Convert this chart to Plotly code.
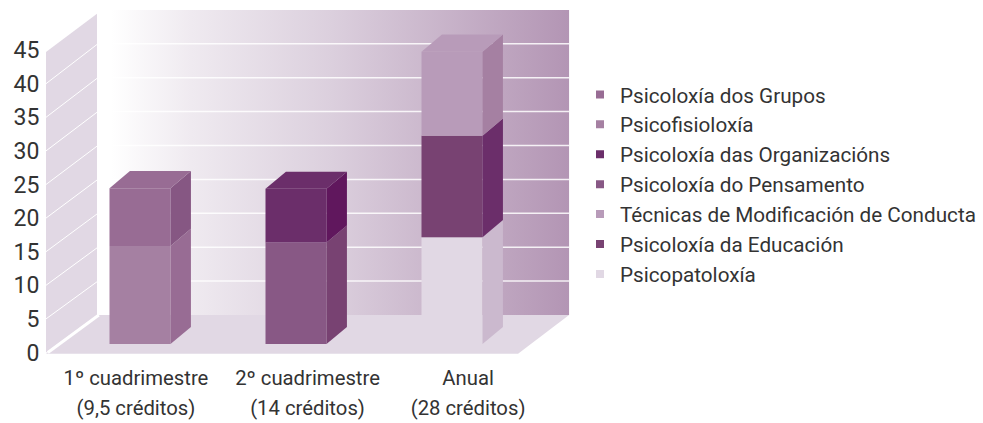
import plotly.graph_objects as go

# ---- data ----
categories = ["1º cuadrimestre", "2º cuadrimestre", "Anual"]
credits = ["(9,5 créditos)", "(14 créditos)", "(28 créditos)"]
category_pos = [0, 1, 2]
label_pos = [-0.026, 1.074, 2.103]
y_ticks = [0, 5, 10, 15, 20, 25, 30, 35, 40, 45]

series_names = ["Psicoloxía dos Grupos", "Psicofisioloxía", "Psicoloxía das Organizacións",
                "Psicoloxía do Pensamento", "Técnicas de Modificación de Conducta",
                "Psicoloxía da Educación", "Psicopatoloxía"]
grupos = [8.6, None, None]
psicofisio = [14.6, None, None]
organizacions = [None, 8.0, None]
pensamento = [None, 15.1, None]
tecnicas = [None, None, 12.5]
educacion = [None, None, 15.1]
psicopato = [None, None, 15.9]
series_values = [grupos, psicofisio, organizacions, pensamento, tecnicas, educacion, psicopato]
front_colors = ["#986C94", "#A580A2", "#6B2E6A", "#885885", "#B89BB9", "#784272", "#E1D8E4"]
side_colors = ["#865783", "#986C94", "#60175D", "#784272", "#A580A2", "#6B2E6A", "#CBB9CE"]

# ---- geometry of the pseudo-3D box, in axis units ----
W, H = 983, 423
PLOT_L, PLOT_R, PLOT_T, PLOT_B = 46, 570, 5, 355
PX_X, PX_Y = 156.0, 6.72          # pixels per axis unit
X0_PX, Y0_PX = 140.0, 352.5       # pixel position of x=0, y=0
x_range = [(PLOT_L - X0_PX) / PX_X, (PLOT_R - X0_PX) / PX_X]
y_range = [(Y0_PX - PLOT_B) / PX_Y, (Y0_PX - PLOT_T) / PX_Y]
BAR_W = 0.391
BAR_FLOOR = 1.26                  # front of bars sits on the floor
BAR_DX, BAR_DY = 0.131, 2.55      # bar depth
BOX_L = x_range[0]
BOX_DX, BOX_DY = 0.327, 5.58      # floor depth
BOX_W = 3.026                     # floor width
BACK_SCALE = 1.009
TEXT = "#333333"
FONT = "Roboto"


def back_y(v):
    return v * BACK_SCALE + BOX_DY


fig = go.Figure()

# ---- walls and floor on the base axes ----
back_l, back_r = BOX_L + BOX_DX, BOX_L + BOX_DX + BOX_W
fig.add_trace(go.Scatter(
    x=[back_l, back_r, back_r, back_l, back_l],
    y=[back_y(0), back_y(0), back_y(45), back_y(45), back_y(0)],
    mode="lines", line=dict(width=0), fill="toself", hoverinfo="skip", showlegend=False,
    fillgradient=dict(type="horizontal", colorscale=[[0, "#FFFFFF"], [0.03, "#FFFFFF"], [0.2, "#EFEAF0"],
                                                     [0.5, "#DBCFDD"], [1, "#B395B4"]])))
for v in y_ticks[1:9]:
    fig.add_trace(go.Scatter(x=[back_l + 0.065, back_r], y=[back_y(v), back_y(v)], mode="lines",
                             line=dict(color="rgba(255,255,255,0.85)", width=1.5),
                             hoverinfo="skip", showlegend=False))
fig.add_trace(go.Scatter(
    x=[BOX_L, back_l, back_l, BOX_L, BOX_L],
    y=[0, BOX_DY, 50.4, 44.7, 0],
    mode="lines", line=dict(width=0), fill="toself", fillcolor="#E1D8E4",
    hoverinfo="skip", showlegend=False))
for v in y_ticks[1:9]:
    fig.add_trace(go.Scatter(x=[BOX_L, back_l], y=[v, back_y(v) - 0.1], mode="lines",
                             line=dict(color="#FFFFFF", width=1), hoverinfo="skip", showlegend=False))
fig.add_trace(go.Scatter(
    x=[BOX_L, BOX_L + BOX_W, back_r, back_l, BOX_L],
    y=[-0.2, -0.2, BOX_DY, BOX_DY, -0.2],
    mode="lines", line=dict(width=0), fill="toself", fillcolor="#E1D8E4",
    hoverinfo="skip", showlegend=False))
fig.add_trace(go.Scatter(x=[BOX_L + 0.012, back_l + 0.012], y=[0, BOX_DY], mode="lines",
                         line=dict(color="#FFFFFF", width=3), hoverinfo="skip", showlegend=False))

# ---- bars on the overlay axes ----
tops = [BAR_FLOOR] * len(categories)
last_on_cat = {}
for idx in reversed(range(len(series_names))):
    vals = series_values[idx]
    bases = [tops[i] if vals[i] is not None else None for i in range(len(vals))]
    fig.add_trace(go.Bar(x=category_pos, y=vals, base=bases, width=BAR_W, name=series_names[idx],
                         marker=dict(color=front_colors[idx], line=dict(width=0)),
                         xaxis="x2", yaxis="y2", showlegend=False))
    for i, v in enumerate(vals):
        if v is None:
            continue
        b, t = tops[i], tops[i] + v
        xr = category_pos[i] + BAR_W / 2
        fig.add_trace(go.Scatter(
            x=[xr, xr + BAR_DX, xr + BAR_DX, xr, xr],
            y=[b, b + BAR_DY, t + BAR_DY, t, b],
            mode="lines", line=dict(width=0), fill="toself", fillcolor=side_colors[idx],
            xaxis="x2", yaxis="y2", hoverinfo="skip", showlegend=False))
        tops[i] = t
        last_on_cat[i] = idx
for i, idx in last_on_cat.items():
    xl, xr, t = category_pos[i] - BAR_W / 2, category_pos[i] + BAR_W / 2, tops[i]
    fig.add_trace(go.Scatter(
        x=[xl, xr, xr + BAR_DX, xl + BAR_DX, xl],
        y=[t, t, t + BAR_DY, t + BAR_DY, t],
        mode="lines", line=dict(width=0), fill="toself", fillcolor=front_colors[idx],
        xaxis="x2", yaxis="y2", hoverinfo="skip", showlegend=False))

# ---- legend entries ----
for name, color in zip(series_names, front_colors):
    fig.add_trace(go.Scatter(x=[None], y=[None], mode="markers", name=name,
                             marker=dict(symbol="square", size=8, color=color)))

fig.update_layout(
    width=W, height=H, autosize=False,
    margin=dict(l=PLOT_L, r=W - PLOT_R, t=PLOT_T, b=H - PLOT_B, autoexpand=False),
    paper_bgcolor="white", plot_bgcolor="white", barmode="overlay",
    font=dict(family=FONT, size=20, color=TEXT),
    xaxis=dict(range=x_range, tickmode="array", tickvals=label_pos, ticktext=categories,
               showgrid=False, zeroline=False, showline=False,
               ticks="outside", ticklen=5, tickcolor="rgba(0,0,0,0)", tickangle=0,
               tickfont=dict(family=FONT, size=20.3, color=TEXT)),
    yaxis=dict(range=y_range, tickmode="array", tickvals=y_ticks,
               showgrid=False, zeroline=False, showline=False,
               ticks="outside", ticklen=1, tickcolor="rgba(0,0,0,0)",
               tickfont=dict(family=FONT, size=23, color=TEXT)),
    xaxis2=dict(range=x_range, overlaying="x", anchor="y2", tickmode="array", tickvals=label_pos,
                ticktext=credits, showgrid=False, zeroline=False, showline=False,
                ticks="outside", ticklen=35, tickcolor="rgba(0,0,0,0)", tickangle=0,
                tickfont=dict(family=FONT, size=20.3, color=TEXT)),
    yaxis2=dict(range=y_range, overlaying="y", visible=False),
    showlegend=True,
    legend=dict(xref="container", yref="container", x=583 / W, y=1 - 74.5 / H,
                xanchor="left", yanchor="top", bgcolor="rgba(0,0,0,0)", borderwidth=0,
                indentation=-3, maxheight=300, font=dict(family=FONT, size=20.7, color=TEXT)),
)
fig.write_html("out.html", config=dict(displayModeBar=False),
               post_script="document.body.style.margin='0';document.documentElement.style.overflow='hidden';")
